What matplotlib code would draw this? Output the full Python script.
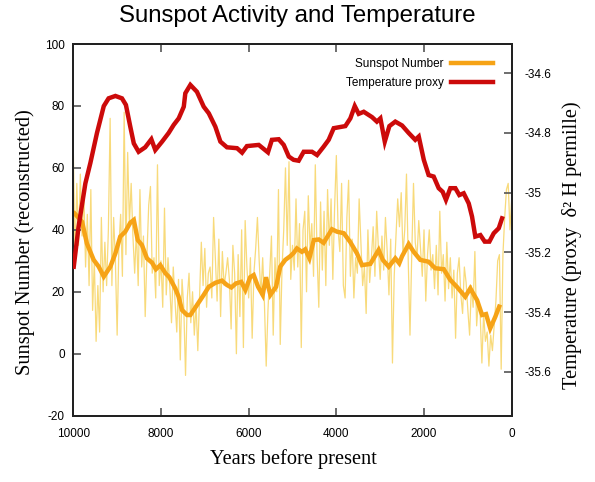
import numpy as np
import matplotlib
matplotlib.use("Agg")
import matplotlib.pyplot as plt
from matplotlib.ticker import FuncFormatter

plt.rcParams['axes.unicode_minus'] = False

# ---------------- data ----------------
# reconstructed sunspot number (thin line), every 40 years from 10000 BP to 0
raw_years = np.arange(10000, -1, -40)
raw_sunspots = [
    66, 30, 55, 35, 58, 38, 52, 28, 45, 22,
    53, 14, 30, 4, 22, 7, 44, 20, 36, 22,
    40, 76, 22, 44, 30, 6, 35, 45, 25, 78,
    32, 65, 42, 55, 38, 26, 40, 22, 53, 28,
    38, 12, 32, 48, 54, 26, 31, 18, 61, 22,
    30, 15, 47, 19, 31, 22, 10, 28, 17, 7,
    24, -2, 24, 15,
    -7, 18, 26, 10, 20, 6, 16, 1, 18, 36,
    22, 34, 15, 26, 28, 18, 44, 31, 17, 37,
    12, 33, 22, 26, 31, 24, 8, 35, 26, 0,
    32, 12, 40, 2, 43, 28, 18, 31, 5, 26,
    34, 44, 30, 19, 31, 16, -4, 14, 26, 38,
    6, 31, 20, 53, 3, 27, 40, 60, 35, 62,
    24, 35, 27,
    50, 28, 42, 2, 40, 46, 20, 51, 34, 42,
    25, 61, 32, 15, 49, 27, 46, 22, 53, 35,
    50, 24, 47, 64, 40, 33, 55, 22, 18, 44,
    56, 25, 37, 18, 31, 26, 50, 36, 22, 28,
    13, 40, 23, 31, 41, 25, 46, 34, 24, 38,
    27, 44, 33, 19, 37, -3, 25, 38, 50, 41,
    52, 32, 40,
    58, 30, 6, 32, 55, 36, 31, 43, 34, 25,
    40, 17, 32, 40, 27, 32, 21, 35, 19, 46,
    26, 32, 17, 36, 21, 31, 18, 27, 5, 26,
    31, 19, 13, 28, 23, 14, 6, 22, 15, 33,
    9, 17, 13, -3, 13, 4, 7, -4, 6, 1,
    9, 17, 30, 32, -5, 32, 44, 53, 55, 40,
    50,
]

smooth_years = [9970, 9800, 9690, 9535, 9420, 9305, 9155, 9040, 8930, 8815,
                8700, 8620, 8530, 8435, 8320, 8205, 8115, 8015, 7900, 7810,
                7675, 7600, 7520, 7405, 7330, 7180, 7025, 6910, 6760, 6610,
                6495, 6395, 6290, 6170, 6075, 5965, 5885, 5785, 5680, 5605,
                5505, 5375, 5280, 5165, 5050, 4970, 4900, 4785, 4710, 4615,
                4515, 4400, 4290, 4100, 3985, 3830, 3680, 3530, 3415, 3225,
                3035, 2940, 2805, 2655, 2565, 2500, 2350, 2235, 2085, 1895,
                1745, 1550, 1400, 1250, 1060, 945, 790, 675, 585, 490,
                375, 285]
smooth_sunspots = [45.3, 42.6, 35.6, 30.3, 28.1, 24.9, 28.1, 32.4, 37.8, 39.4,
                   42.3, 43.2, 36.7, 35.1, 30.8, 29.4, 27.3, 28.6, 26.0, 24.7,
                   21.1, 18.5, 14.1, 12.5, 12.5, 15.7, 19.0, 21.6, 22.9, 23.6,
                   22.2, 21.4, 22.7, 23.2, 20.6, 24.7, 25.4, 21.6, 19.0, 24.7,
                   19.0, 21.6, 28.1, 30.3, 31.5, 32.6, 34.0, 32.9, 33.7, 30.8,
                   36.7, 36.9, 35.8, 40.2, 39.4, 38.9, 36.0, 32.4, 28.6, 29.0,
                   33.5, 30.3, 28.1, 30.8, 29.2, 31.5, 35.4, 32.9, 30.3, 29.7,
                   27.6, 27.3, 23.8, 21.6, 18.4, 21.1, 17.3, 12.5, 12.8, 8.2,
                   11.9, 15.2]

temp_years = [9990, 9880, 9725, 9610, 9460, 9305, 9195, 9040, 8890, 8800,
              8700, 8620, 8510, 8360, 8220, 8130, 7975, 7825, 7710, 7595,
              7480, 7445, 7330, 7180, 7025, 6910, 6760, 6645, 6495, 6265,
              6150, 6040, 5770, 5560, 5470, 5315, 5200, 5085, 4975, 4860,
              4745, 4555, 4440, 4290, 4175, 4060, 3795, 3680, 3580, 3490,
              3375, 3185, 3075, 2995, 2895, 2790, 2655, 2500, 2350, 2200,
              2120, 2005, 1895, 1780, 1665, 1575, 1500, 1400, 1285, 1195,
              1095, 980, 905, 830, 715, 615, 510, 410, 295, 220]
temp_proxy = [-35.248, -35.114, -34.969, -34.900, -34.800, -34.710, -34.684, -34.676, -34.684, -34.706,
              -34.779, -34.835, -34.863, -34.848, -34.821, -34.857, -34.829, -34.800, -34.773, -34.751,
              -34.712, -34.667, -34.639, -34.662, -34.712, -34.734, -34.779, -34.829, -34.848, -34.851,
              -34.866, -34.844, -34.840, -34.865, -34.823, -34.821, -34.840, -34.879, -34.890, -34.893,
              -34.863, -34.863, -34.874, -34.846, -34.823, -34.784, -34.777, -34.751, -34.710, -34.736,
              -34.729, -34.747, -34.762, -34.751, -34.829, -34.777, -34.762, -34.775, -34.800, -34.823,
              -34.812, -34.890, -34.941, -34.946, -34.985, -34.997, -35.024, -34.985, -34.985, -35.008,
              -35.002, -35.036, -35.080, -35.147, -35.142, -35.164, -35.164, -35.136, -35.119, -35.086]

left_ticks = [-20, 0, 20, 40, 60, 80, 100]
right_ticks = [-35.6, -35.4, -35.2, -35.0, -34.8, -34.6]
x_ticks = [10000, 8000, 6000, 4000, 2000, 0]

# ---------------- plot ----------------
fig = plt.figure(figsize=(5.95, 4.82), dpi=100)
ax = fig.add_axes([0.1232, 0.1376, 0.7368, 0.7711])
ax2 = ax.twinx()

thin_col = '#f8da7a'
orange_col = '#f6a316'
red_col = '#cc0a0a'

ax.plot(raw_years, raw_sunspots, color=thin_col, lw=0.9, zorder=1)
l1, = ax.plot(smooth_years, smooth_sunspots, color=orange_col, lw=3.2, zorder=2,
              solid_joinstyle='miter', label='Sunspot Number')
l2, = ax2.plot(temp_years, temp_proxy, color=red_col, lw=3.2, zorder=3,
               solid_joinstyle='miter', label='Temperature proxy')

ax.set_xlim(10000, 0)
ax.set_ylim(-20, 100)
ax2.set_ylim(-35.747, -34.502)

ax.set_xticks(x_ticks)
ax.set_yticks(left_ticks)
ax2.set_yticks(right_ticks)
ax2.yaxis.set_major_formatter(FuncFormatter(lambda v, p: '%g' % round(v, 1)))

tick_font = 'Liberation Sans'
for a in (ax, ax2):
    for s in a.spines.values():
        s.set_linewidth(1.4)
        s.set_color('#222222')
ax.tick_params(axis='x', which='both', direction='in', length=6, width=1.2,
               color='#555555', top=True, bottom=True, pad=9, labelsize=8.5)
ax.tick_params(axis='y', which='both', direction='in', length=6, width=1.2,
               color='#555555', left=True, right=False, pad=6, labelsize=8.5)
ax2.tick_params(axis='y', which='both', direction='in', length=6, width=1.2,
                color='#555555', pad=9, labelsize=8.5)
for lab in ax.get_xticklabels() + ax.get_yticklabels() + ax2.get_yticklabels():
    lab.set_fontfamily(tick_font)

serif = 'Liberation Serif'
ax.set_xlabel('Years before present', fontfamily=serif, fontsize=14.7)
ax.set_ylabel('Sunspot Number (reconstructed)', fontfamily=serif, fontsize=14.7)
ax2.set_ylabel('Temperature (proxy  δ² H permille)', fontfamily=serif, fontsize=14.7)
ax.xaxis.set_label_coords(0.503, -0.090)
ax.yaxis.set_label_coords(-0.088, 0.466)
ax2.yaxis.set_label_coords(1.1147, 0.459)
fig.text(0.5, 1 - 16 / 482, 'Sunspot Activity and Temperature', fontfamily='Liberation Sans',
         fontsize=17.3, ha='center', va='center')

leg = ax2.legend(handles=[l1, l2], loc='upper right', bbox_to_anchor=(0.982, 0.99),
                 frameon=False, markerfirst=False, handlelength=3.6, handletextpad=0.6,
                 labelspacing=0.6, prop={'family': 'Liberation Sans', 'size': 8.5})

fig.savefig('out.png', dpi=100)
